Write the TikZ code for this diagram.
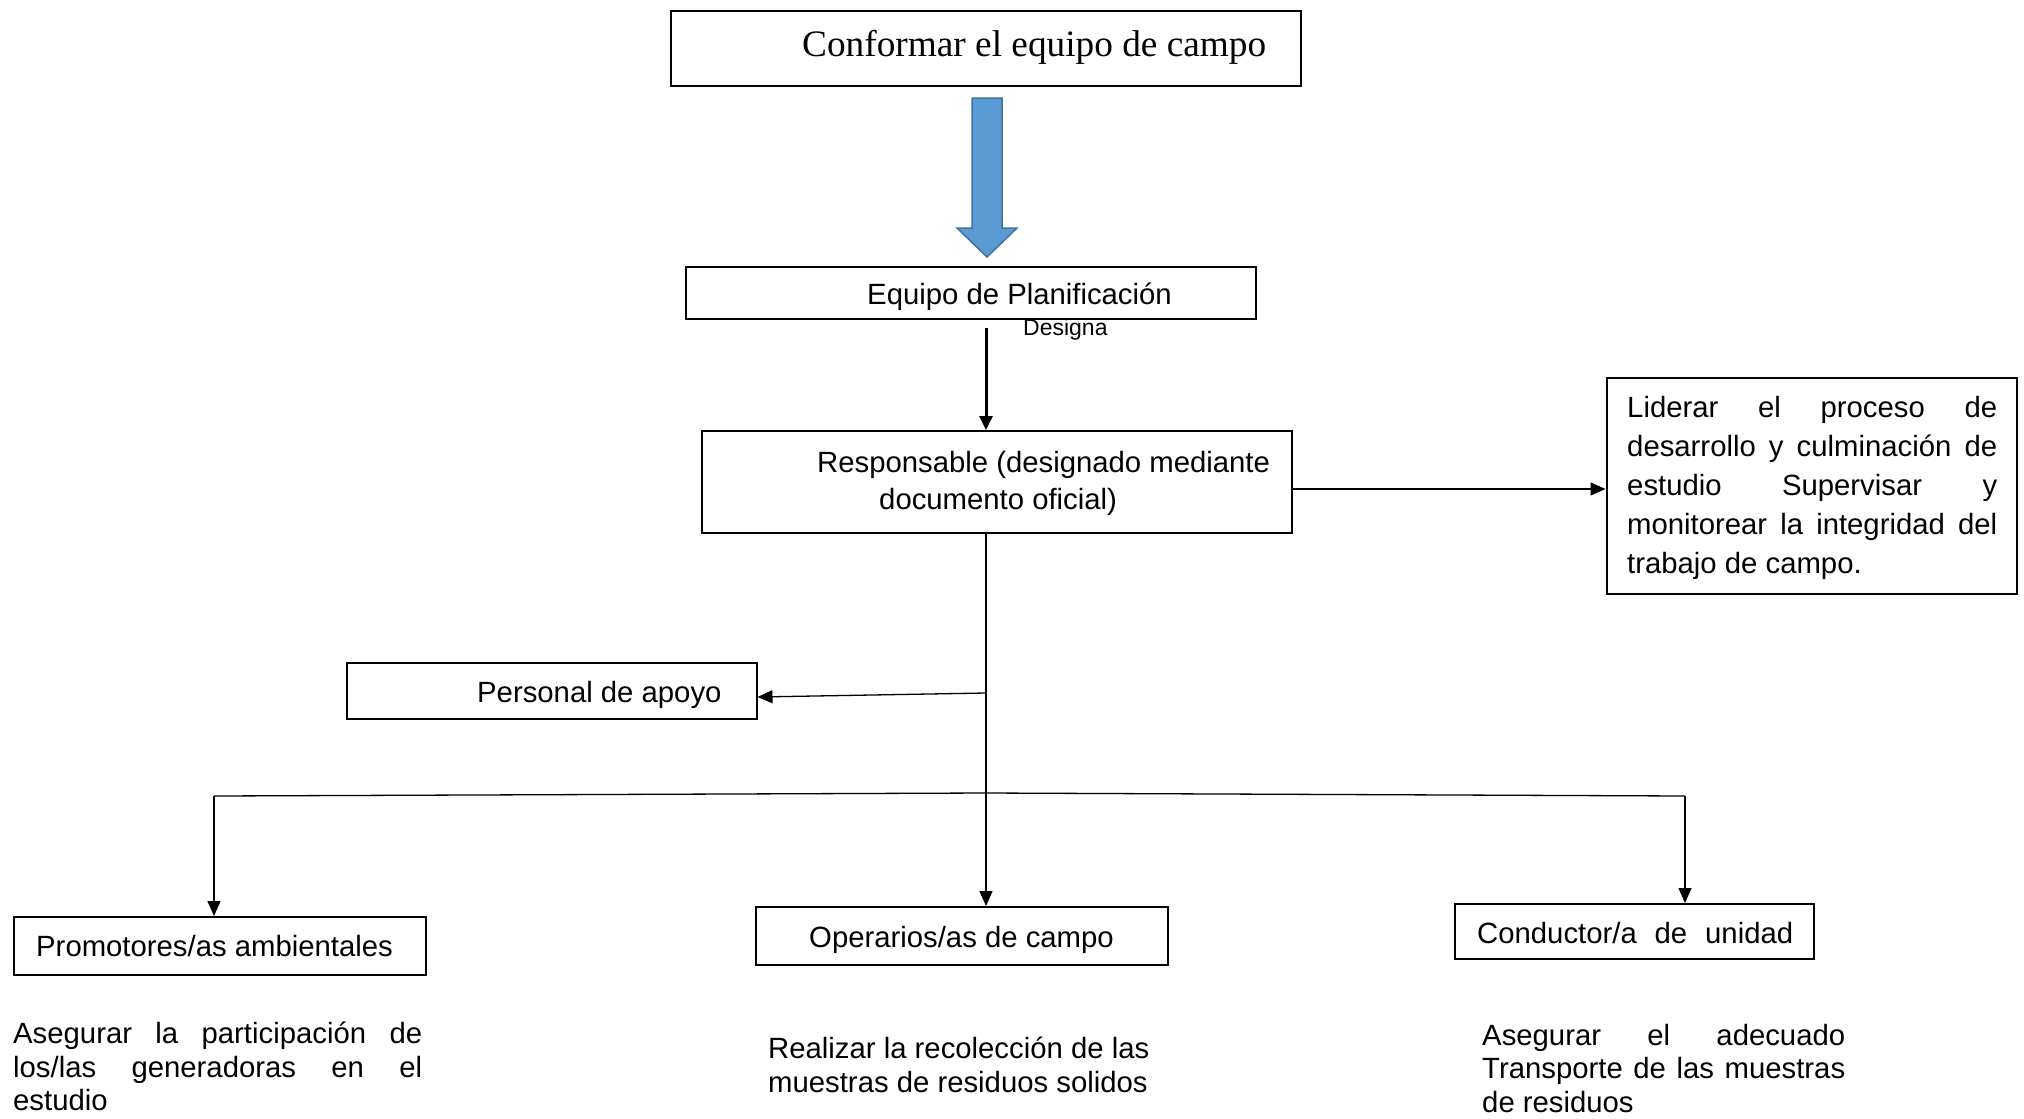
\documentclass[tikz,border=0pt]{standalone}
\usepackage{fontspec}
\setmainfont{Liberation Sans}
\newfontfamily\timesf{Liberation Serif}
\usetikzlibrary{arrows.meta}
\definecolor{arrowfill}{HTML}{5B9BD5}
\definecolor{arrowedge}{HTML}{41719C}
\begin{document}
\begin{tikzpicture}[x=1pt,y=-1pt,
  box/.style={draw,line width=2pt,inner sep=0pt},
  txt/.style={inner sep=0pt,anchor=base west,font=\fontsize{29.3}{34}\selectfont},
  conn/.style={line width=1.3pt,-{Triangle[length=15pt,width=13pt]}},
  thickconn/.style={line width=3pt,-{Triangle[length=14pt,width=13pt]}},
  blockarrow/.style={fill=arrowfill,draw=arrowedge,line width=1.5pt,line join=miter}
]
\useasboundingbox (0,0) rectangle (2024,1119);

% boxes
\node[box,minimum width=630pt,minimum height=75pt] (top) at (986,48) {};
\node[box,minimum width=570pt,minimum height=52pt] (plan) at (970.5,292.5) {};
\node[box,minimum width=590pt,minimum height=102pt] (resp) at (996.5,482) {};
\node[box,minimum width=410pt,minimum height=216pt] (right) at (1811.5,486) {};
\node[box,minimum width=410pt,minimum height=56pt] (apoyo) at (551.5,691) {};
\node[box,minimum width=412pt,minimum height=58pt] (prom) at (220,946) {};
\node[box,minimum width=412pt,minimum height=58pt] (oper) at (962,936) {};
\node[box,minimum width=359pt,minimum height=55pt] (cond) at (1634.5,931.5) {};

% texts
\node[txt,font=\timesf\fontsize{37.3}{44}\selectfont] (ttop) at (802,56) {Conformar el equipo de campo};
\node[txt] (tplan) at (867,304) {Equipo de Planificación};
\node[txt,font=\fontsize{23}{28}\selectfont] (tdes) at (1023,335) {Designa};
\node[txt] (tres1) at (817,472) {Responsable (designado mediante};
\node[txt] (tres2) at (879,509) {documento oficial)};

\node[txt] (r1) at (1627,417) {\makebox[370pt][s]{Liderar el proceso de}};
\node[txt] (r2) at (1627,456) {\makebox[370pt][s]{desarrollo y culminación de}};
\node[txt] (r3) at (1627,495) {\makebox[370pt][s]{estudio Supervisar y}};
\node[txt] (r4) at (1627,534) {\makebox[370pt][s]{monitorear la integridad del}};
\node[txt] (r5) at (1627,573) {trabajo de campo.};

\node[txt] (tapoyo) at (477,702) {Personal de apoyo};
\node[txt] (tprom) at (36,956) {Promotores/as ambientales};
\node[txt] (toper) at (809,947) {Operarios/as de campo};
\node[txt] (tcond) at (1477,943) {\makebox[316pt][s]{Conductor/a de unidad}};

\node[txt] (l1) at (13,1043) {\makebox[409pt][s]{Asegurar la participación de}};
\node[txt] (l2) at (13,1077) {\makebox[409pt][s]{los/las generadoras en el}};
\node[txt] (l3) at (13,1110) {estudio};

\node[txt] (m1) at (768,1058) {Realizar la recolección de las};
\node[txt] (m2) at (768,1092) {muestras de residuos solidos};

\node[txt] (q1) at (1482,1045) {\makebox[363pt][s]{Asegurar el adecuado}};
\node[txt] (q2) at (1482,1078) {\makebox[363pt][s]{Transporte de las muestras}};
\node[txt] (q3) at (1482,1112) {de residuos};

% block arrow
\draw[blockarrow] (972,98) -- (1002,98) -- (1002,228) -- (1017,228) -- (987,257) -- (957,228) -- (972,228) -- cycle;

% connectors
\coordinate (d0) at (986,328);
\draw[thickconn] (d0) -- (d0 |- resp.north);

\coordinate (ra) at (1292,489);
\draw[conn] (ra) -- (ra -| right.west);

\coordinate (rb) at (986,533);
\draw[conn] (rb) -- (rb |- oper.north);

\coordinate (ap) at (986,693);
\draw[conn] (ap) -- ([yshift=-6pt]apoyo.east);

\coordinate (hl) at (214,796);
\coordinate (hr) at (1685,796);
\draw[line width=1.3pt] (hl) -- (986,793) -- (hr);
\draw[conn] (hl) -- (hl |- prom.north);
\draw[conn] (hr) -- (hr |- cond.north);
\end{tikzpicture}
\end{document}
